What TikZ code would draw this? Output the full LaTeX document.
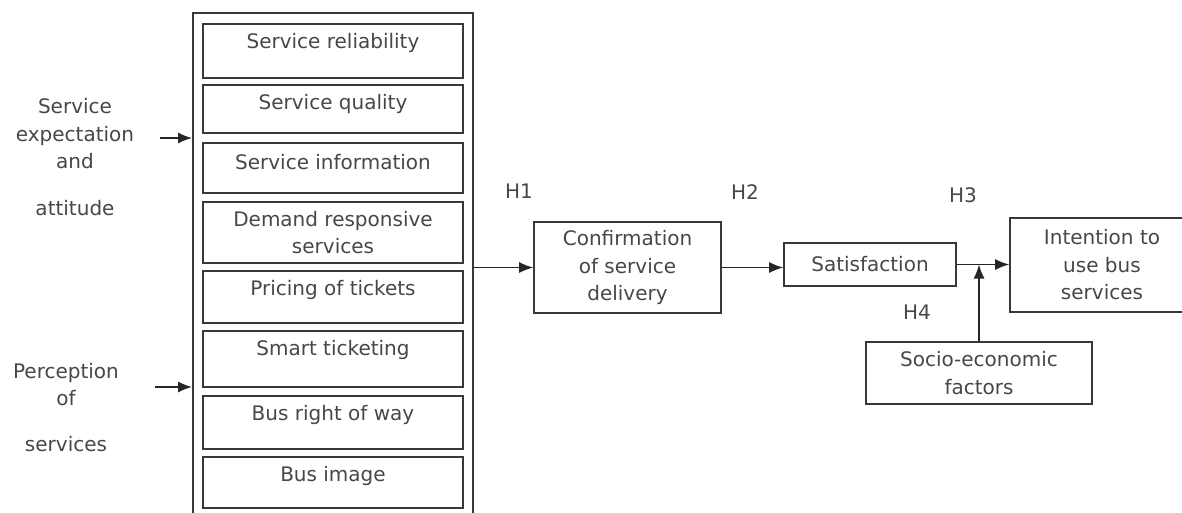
\documentclass[tikz,border=0pt]{standalone}
\usepackage{fontspec}
\setmainfont{DejaVu Sans}
\usetikzlibrary{arrows.meta}
\begin{document}
\begin{tikzpicture}[x=1pt,y=-1pt,
  txt/.style={text=black!72, font=\fontsize{20}{27.5}\selectfont, align=center, inner sep=0pt},
  frame/.style={draw=black!78, line width=1.6pt, inner sep=0pt},
  item/.style={frame, minimum width=260pt},
  itemtext/.style={label={[txt, anchor=center, yshift=-20pt]north:#1}},
  blk/.style={frame, txt},
  arr/.style={draw=black!85, line width=1.4pt, -{Latex[length=14pt,width=11pt]}}]
\useasboundingbox (0,0) rectangle (1182,512);
\clip (0,0) rectangle (1182,512);

% group of service attributes
\node[frame, minimum width=280pt, minimum height=520pt, anchor=north west] (group) at (192,12) {};
\node[item, minimum height=54pt, itemtext={Service reliability}] (i1) at (333,51) {};
\node[item, minimum height=48pt, itemtext={Service quality}] (i2) at (333,109) {};
\node[item, minimum height=50pt, itemtext={Service information}] (i3) at (333,168) {};
\node[item, minimum height=61pt, txt] (i4) at (333,232.5) {Demand responsive\\services};
\node[item, minimum height=52pt, itemtext={Pricing of tickets}] (i5) at (333,297) {};
\node[item, minimum height=56pt, itemtext={Smart ticketing}] (i6) at (333,359) {};
\node[item, minimum height=53pt, itemtext={Bus right of way}] (i7) at (333,422.5) {};
\node[item, minimum height=51pt, itemtext={Bus image}] (i8) at (333,482.5) {};

% inputs
\node[txt] (expect) at (75,157) {Service\\expectation\\and\\[19pt]attitude};
\node[txt] (percep) at (66,407.5) {Perception\\of\\[18pt]services};
\coordinate (expIn) at (160,138);
\coordinate (perIn) at (155,387);
\draw[arr] (expIn) -- (expIn -| group.west);
\draw[arr] (perIn) -- (perIn -| group.west);

% outcome chain
\node[blk, minimum width=187pt, minimum height=91pt] (conf) at (627.5,267.5) {Confirmation\\of service\\delivery};
\node[blk, minimum width=172pt, minimum height=43pt] (sat) at (870,264.5) {Satisfaction};
\node[blk, minimum width=184pt, minimum height=94pt] (intent) at (1102,265) {Intention to\\use bus\\services};
\node[blk, minimum width=226pt, minimum height=62pt] (socio) at (979,373) {Socio-economic\\factors};

\draw[arr] (group.east |- conf.west) -- (conf.west);
\draw[arr] (conf.east) -- (conf.east -| sat.west);
\draw[arr] (sat.east) -- (sat.east -| intent.west);
\draw[arr] (socio.north) -- (socio.north |- sat.east);

% hypothesis labels
\node[txt] (h1) at (519,191) {H1};
\node[txt] (h2) at (745,192) {H2};
\node[txt] (h3) at (963,195) {H3};
\node[txt] (h4) at (917,312) {H4};
\end{tikzpicture}
\end{document}
